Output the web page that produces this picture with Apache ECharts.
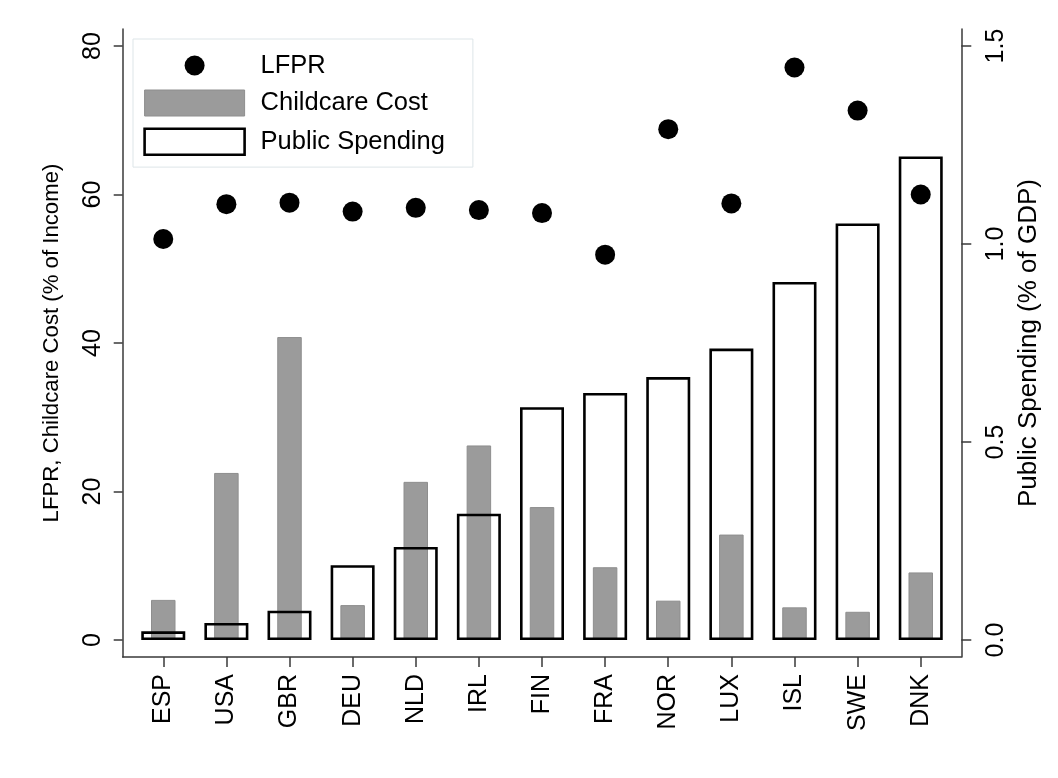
<!DOCTYPE html>
<html>
<head>
<meta charset="utf-8">
<script src="https://cdn.jsdelivr.net/npm/echarts@6/dist/echarts.min.js"></script>
<style>
  html, body { margin: 0; padding: 0; background: #fff; }
  #chart { width: 1058px; height: 778px; }
</style>
</head>
<body>
<div id="chart"></div>
<script>
// values
const countries = ['ESP', 'USA', 'GBR', 'DEU', 'NLD', 'IRL', 'FIN', 'FRA', 'NOR', 'LUX', 'ISL', 'SWE', 'DNK'];
const lfpr = [54.0, 58.7, 58.9, 57.7, 58.2, 57.9, 57.5, 51.9, 68.8, 58.8, 77.1, 71.3, 60.0];
const childcareCost = [5.4, 22.5, 40.8, 4.7, 21.3, 26.2, 17.9, 9.8, 5.3, 14.2, 4.4, 3.8, 9.1];
const publicSpending = [0.022, 0.043, 0.074, 0.189, 0.235, 0.319, 0.588, 0.624, 0.664, 0.736, 0.904, 1.052, 1.221];

// axis ranges
const leftAxis = { min: 0, max: 80, interval: 20 };
const rightAxis = { min: 0, max: 1.5, interval: 0.5 };

const FONT = '"Liberation Sans", Arial, Helvetica, sans-serif';
const AXIS_COLOR = '#3a3a3a';
const axisLineStyle = { color: AXIS_COLOR, width: 1.5 };
// circle with an invisible 26x26 frame so the legend dot stays 20px
const dotIcon = 'path://M0,0M26,26M3,13a10,10 0 1,0 20,0a10,10 0 1,0 -20,0z';

const chart = echarts.init(document.getElementById('chart'));

chart.setOption({
  animation: false,
  backgroundColor: '#fff',
  textStyle: { fontFamily: FONT, color: '#000' },
  grid: [
    // plot area (where the data lives)
    { left: 131.7, right: 105.7, top: 46, bottom: 138 },
    // frame: only carries the offset axis lines, like Stata draws them
    { left: 122.7, right: 96.7, top: 29, bottom: 121 }
  ],
  legend: {
    orient: 'vertical',
    left: 133,
    top: 39,
    padding: [13.5, 28, 11, 10.3],
    itemWidth: 100,
    itemHeight: 26,
    itemGap: 11,
    borderColor: '#dde5e8',
    borderWidth: 1,
    selectedMode: false,
    textStyle: { fontFamily: FONT, fontSize: 25.5, color: '#000', padding: [0, 0, 0, 11] },
    data: [
      { name: 'LFPR', icon: dotIcon },
      { name: 'Childcare Cost', icon: 'rect', itemStyle: { borderWidth: 1 } },
      { name: 'Public Spending', icon: 'rect', itemStyle: { borderWidth: 2.6 } }
    ]
  },
  xAxis: [
    {
      type: 'category',
      gridIndex: 0,
      data: countries,
      offset: 17,
      axisLine: { show: false, onZero: false },
      axisTick: { show: true, alignWithLabel: true, length: 10, lineStyle: axisLineStyle },
      axisLabel: { rotate: 90, margin: 17, fontSize: 25, color: '#000', interval: 0, fontFamily: FONT },
      splitLine: { show: false }
    },
    {
      // second band axis so the wide bars are centred on their own
      type: 'category',
      gridIndex: 0,
      data: countries,
      show: false
    },
    {
      type: 'value',
      gridIndex: 1,
      min: 0,
      max: 1,
      axisLine: { show: true, onZero: false, lineStyle: axisLineStyle },
      axisTick: { show: false },
      axisLabel: { show: false },
      splitLine: { show: false }
    }
  ],
  yAxis: [
    {
      type: 'value',
      gridIndex: 0,
      position: 'left',
      min: leftAxis.min,
      max: leftAxis.max,
      interval: leftAxis.interval,
      offset: 9,
      axisLine: { show: false, onZero: false },
      axisTick: { show: true, length: 9, lineStyle: axisLineStyle },
      axisLabel: { rotate: 90, margin: 17, fontSize: 25, color: '#000', fontFamily: FONT },
      splitLine: { show: false },
      name: 'LFPR, Childcare Cost (% of Income)',
      nameLocation: 'middle',
      nameGap: 60,
      nameTextStyle: { fontSize: 22.2, color: '#000', fontFamily: FONT }
    },
    {
      type: 'value',
      gridIndex: 0,
      position: 'right',
      min: rightAxis.min,
      max: rightAxis.max,
      interval: rightAxis.interval,
      offset: 9,
      axisLine: { show: false, onZero: false },
      axisTick: { show: true, length: 10, lineStyle: axisLineStyle },
      axisLabel: {
        rotate: 90, margin: 22, fontSize: 25, color: '#000', fontFamily: FONT,
        formatter: v => v.toFixed(1)
      },
      splitLine: { show: false },
      name: 'Public Spending (% of GDP)',
      nameLocation: 'middle',
      nameGap: 44,
      nameTextStyle: { fontSize: 26, color: '#000', fontFamily: FONT }
    },
    {
      type: 'value', gridIndex: 1, position: 'left', min: 0, max: 1,
      axisLine: { show: true, onZero: false, lineStyle: axisLineStyle },
      axisTick: { show: false }, axisLabel: { show: false }, splitLine: { show: false }
    },
    {
      type: 'value', gridIndex: 1, position: 'right', min: 0, max: 1,
      axisLine: { show: true, onZero: false, lineStyle: axisLineStyle },
      axisTick: { show: false }, axisLabel: { show: false }, splitLine: { show: false }
    }
  ],
  series: [
    {
      name: 'Childcare Cost',
      type: 'bar',
      xAxisIndex: 0,
      yAxisIndex: 0,
      data: childcareCost,
      barWidth: 24.5,
      itemStyle: { color: '#9b9b9b', borderColor: '#8e8e8e', borderWidth: 1, opacity: 1 },
      emphasis: { disabled: true }
    },
    {
      name: 'Public Spending',
      type: 'bar',
      xAxisIndex: 1,
      yAxisIndex: 1,
      data: publicSpending,
      barWidth: 44,
      itemStyle: { color: 'rgba(0,0,0,0)', borderColor: '#000', borderWidth: 2.6, opacity: 1 },
      emphasis: { disabled: true }
    },
    {
      name: 'LFPR',
      type: 'scatter',
      xAxisIndex: 0,
      yAxisIndex: 0,
      data: lfpr,
      symbol: 'circle',
      symbolSize: 20,
      itemStyle: { color: '#000', opacity: 1 },
      emphasis: { disabled: true }
    }
  ]
});
</script>
</body>
</html>
